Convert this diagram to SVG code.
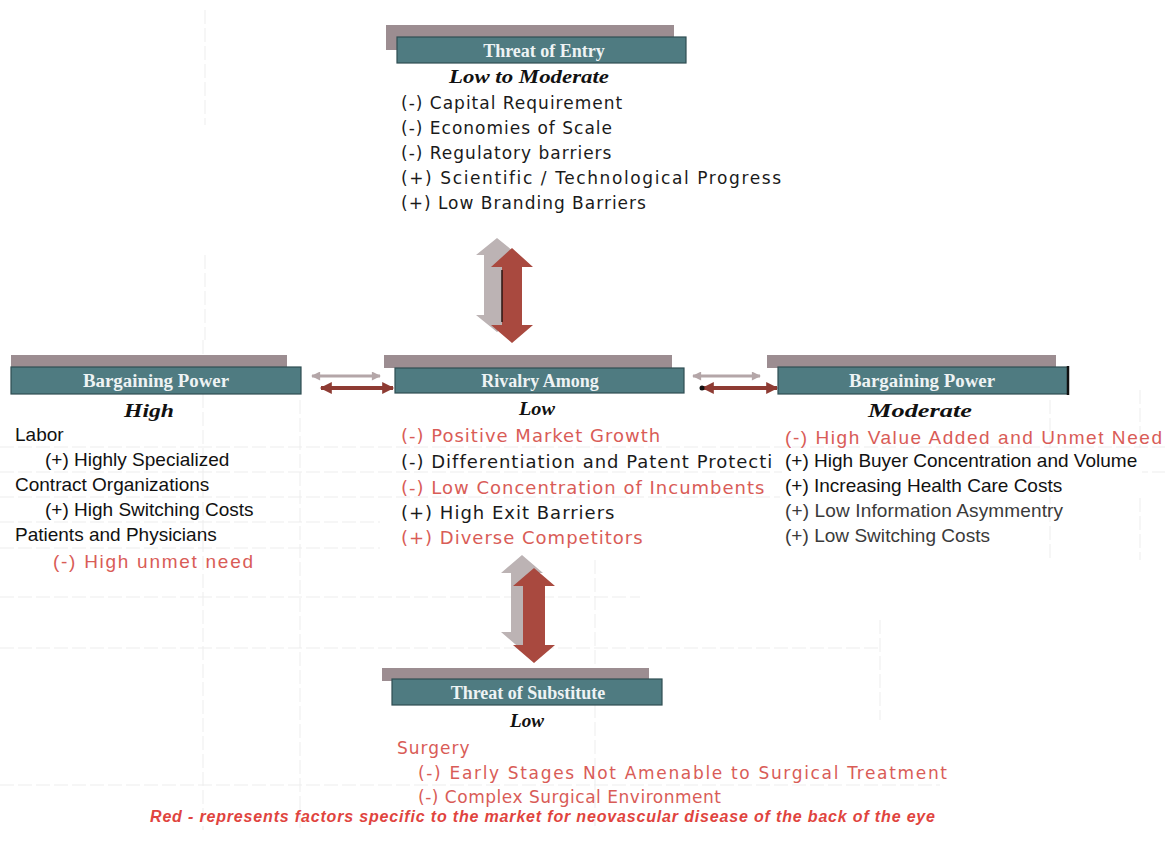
<svg xmlns="http://www.w3.org/2000/svg" width="1165" height="855" viewBox="0 0 1165 855">
  <style>
    .shadow { fill: #9c8d91; }
    .box { fill: #4f7b81; stroke: #2f4e53; stroke-width: 1.2; }
    .title { font-family: "Liberation Serif", serif; font-weight: bold; font-size: 18px; fill: #eef3f4; text-anchor: middle; }
    .level { font-family: "Liberation Serif", serif; font-weight: bold; font-style: italic; font-size: 19px; fill: #111; text-anchor: middle; }
    .v { font-family: "DejaVu Sans", sans-serif; letter-spacing: 1px; fill: #1a1a1a; }
    .a { font-family: "Liberation Sans", Arial, sans-serif; font-size: 19px; fill: #111; }
    .red { fill: #d95c57; }
    .grey { fill: #3a3a3a; }
    .grid line { stroke: #ededed; stroke-width: 1; stroke-dasharray: 14 4; }
    .bigarrow { fill: #a9493f; }
    .bigshadow { fill: #bcb3b4; }
  </style>
  <defs>
    <marker id="hRed" viewBox="0 0 10 10" refX="9" refY="5" markerWidth="3.2" markerHeight="3" orient="auto-start-reverse">
      <path d="M0,0 L10,5 L0,10 z" fill="#8e3b33"/>
    </marker>
    <marker id="hGrey" viewBox="0 0 10 10" refX="9" refY="5" markerWidth="3.6" markerHeight="3" orient="auto-start-reverse">
      <path d="M0,0 L10,5 L0,10 z" fill="#b4a6a8"/>
    </marker>
  </defs>

  <rect width="1165" height="855" fill="#ffffff"/>

  <!-- faint worksheet grid behind the chart -->
  <g class="grid">
    <line x1="205" y1="10" x2="205" y2="125"/>
    <line x1="205" y1="255" x2="205" y2="340"/>
    <line x1="203" y1="340" x2="203" y2="830"/>
    <line x1="300" y1="400" x2="300" y2="830"/>
    <line x1="595" y1="560" x2="595" y2="830"/>
    <line x1="880" y1="620" x2="880" y2="720"/>
    <line x1="1140" y1="390" x2="1140" y2="560"/>
    <line x1="1050" y1="400" x2="1050" y2="560"/>
    <line x1="0" y1="447" x2="1165" y2="447"/>
    <line x1="0" y1="472" x2="1165" y2="472"/>
    <line x1="0" y1="497" x2="780" y2="497"/>
    <line x1="0" y1="522" x2="380" y2="522"/>
    <line x1="0" y1="548" x2="380" y2="548"/>
    <line x1="0" y1="597" x2="640" y2="597"/>
    <line x1="0" y1="648" x2="880" y2="648"/>
    <line x1="0" y1="785" x2="940" y2="785"/>
  </g>

  <!-- connectors: double-headed arrows between the forces -->
  <g id="connectors">
    <polygon class="bigshadow" points="497,238 518,255 510,255 510,315 518,315 497,332 476,315 484,315 484,255 476,255"/>
    <polygon class="bigarrow" points="512,248 533,267 522,267 522,325 533,325 512,343 491,325 502,325 502,267 491,267"/>
    <line x1="502" y1="270" x2="502" y2="322" stroke="#2a1512" stroke-width="1.5"/>

    <polygon class="bigshadow" points="522,555 543,573 533,573 533,632 543,632 522,650 501,632 511,632 511,573 501,573"/>
    <polygon class="bigarrow" points="534,568 555,586 545,586 545,645 555,645 534,663 513,645 523,645 523,586 513,586"/>

    <line x1="312" y1="376" x2="380" y2="376" stroke="#b4a6a8" stroke-width="3" marker-start="url(#hGrey)" marker-end="url(#hGrey)"/>
    <line x1="321" y1="388" x2="393" y2="388" stroke="#8e3b33" stroke-width="4" marker-start="url(#hRed)" marker-end="url(#hRed)"/>
    <line x1="693" y1="376" x2="760" y2="376" stroke="#b4a6a8" stroke-width="3" marker-start="url(#hGrey)" marker-end="url(#hGrey)"/>
    <line x1="703" y1="388" x2="777" y2="388" stroke="#8e3b33" stroke-width="4" marker-start="url(#hRed)" marker-end="url(#hRed)"/>
    <circle cx="702" cy="388" r="2.5" fill="#111"/>
  </g>

  <!-- Threat of Entry -->
  <g id="threat-of-entry">
    <rect class="shadow" x="386" y="25" width="288" height="25"/>
    <rect class="box" x="397" y="37" width="289" height="26"/>
    <text class="title" x="544" y="57">Threat of Entry</text>
    <text class="level" x="529" y="83" textLength="160" lengthAdjust="spacingAndGlyphs">Low to Moderate</text>
    <g class="v" font-size="17">
      <text x="401" y="109">(-) Capital Requirement</text>
      <text x="401" y="134">(-) Economies of Scale</text>
      <text x="401" y="159">(-) Regulatory barriers</text>
      <text x="401" y="184" textLength="381" lengthAdjust="spacing">(+) Scientific / Technological Progress</text>
      <text x="401" y="209">(+) Low Branding Barriers</text>
    </g>
  </g>

  <!-- Bargaining Power (suppliers) -->
  <g id="bargaining-power-suppliers">
    <rect class="shadow" x="11" y="355" width="276" height="13"/>
    <rect class="box" x="11" y="367" width="290" height="27"/>
    <text class="title" x="156" y="387" textLength="146" lengthAdjust="spacingAndGlyphs">Bargaining Power</text>
    <text class="level" x="149" y="417" textLength="50" lengthAdjust="spacingAndGlyphs">High</text>
    <g class="a">
      <text x="15" y="441">Labor</text>
      <text x="45" y="466">(+) Highly Specialized</text>
      <text x="15" y="491">Contract Organizations</text>
      <text x="45" y="516">(+) High Switching Costs</text>
      <text x="15" y="541">Patients and Physicians</text>
      <text class="red" x="53" y="568" textLength="200" lengthAdjust="spacing">(-) High unmet need</text>
    </g>
  </g>

  <!-- Rivalry Among -->
  <g id="rivalry-among">
    <rect class="shadow" x="384" y="355" width="288" height="13"/>
    <rect class="box" x="395" y="368" width="289" height="25"/>
    <text class="title" x="540" y="387">Rivalry Among</text>
    <text class="level" x="537" y="415" textLength="36" lengthAdjust="spacingAndGlyphs">Low</text>
    <g class="v" font-size="18">
      <text class="red" x="401" y="442">(-) Positive Market Growth</text>
      <text x="401" y="468">(-) Differentiation and Patent Protecti</text>
      <text class="red" x="401" y="494">(-) Low Concentration of Incumbents</text>
      <text x="401" y="519">(+) High Exit Barriers</text>
      <text class="red" x="401" y="544">(+) Diverse Competitors</text>
    </g>
  </g>

  <!-- Bargaining Power (buyers) -->
  <g id="bargaining-power-buyers">
    <rect class="shadow" x="767" y="355" width="289" height="13"/>
    <rect class="box" x="778" y="367" width="290" height="27"/>
    <line x1="1068" y1="366" x2="1068" y2="395" stroke="#111" stroke-width="2.5"/>
    <text class="title" x="922" y="387" textLength="146" lengthAdjust="spacingAndGlyphs">Bargaining Power</text>
    <text class="level" x="920" y="417" textLength="104" lengthAdjust="spacingAndGlyphs">Moderate</text>
    <g class="a">
      <rect x="782" y="448" width="360" height="48" fill="#ffffff"/>
      <text class="red" x="785" y="444" textLength="377" lengthAdjust="spacing">(-) High Value Added and Unmet Need</text>
      <text x="785" y="467">(+) High Buyer Concentration and Volume</text>
      <text x="785" y="492">(+) Increasing Health Care Costs</text>
      <text class="grey" x="785" y="517" textLength="278" lengthAdjust="spacing">(+) Low Information Asymmentry</text>
      <text class="grey" x="785" y="542" textLength="205" lengthAdjust="spacing">(+) Low Switching Costs</text>
    </g>
  </g>

  <!-- Threat of Substitute -->
  <g id="threat-of-substitute">
    <rect class="shadow" x="382" y="668" width="267" height="13"/>
    <rect class="box" x="392" y="679" width="270" height="26"/>
    <text class="title" x="528" y="699">Threat of Substitute</text>
    <text class="level" x="527" y="727" textLength="34" lengthAdjust="spacingAndGlyphs">Low</text>
    <g class="v red" font-size="17">
      <text x="397" y="754">Surgery</text>
      <text x="418" y="779" textLength="530" lengthAdjust="spacing">(-) Early Stages Not Amenable to Surgical Treatment</text>
      <text x="418" y="803" textLength="304" lengthAdjust="spacing">(-) Complex Surgical Environment</text>
    </g>
  </g>

  <!-- legend -->
  <g id="legend">
    <text x="150" y="822" font-family="Liberation Sans, Arial, sans-serif" font-size="16" font-weight="bold" font-style="italic" fill="#e0443e" textLength="785" lengthAdjust="spacing">Red - represents factors specific to the market for neovascular disease of the back of the eye</text>
  </g>
</svg>
